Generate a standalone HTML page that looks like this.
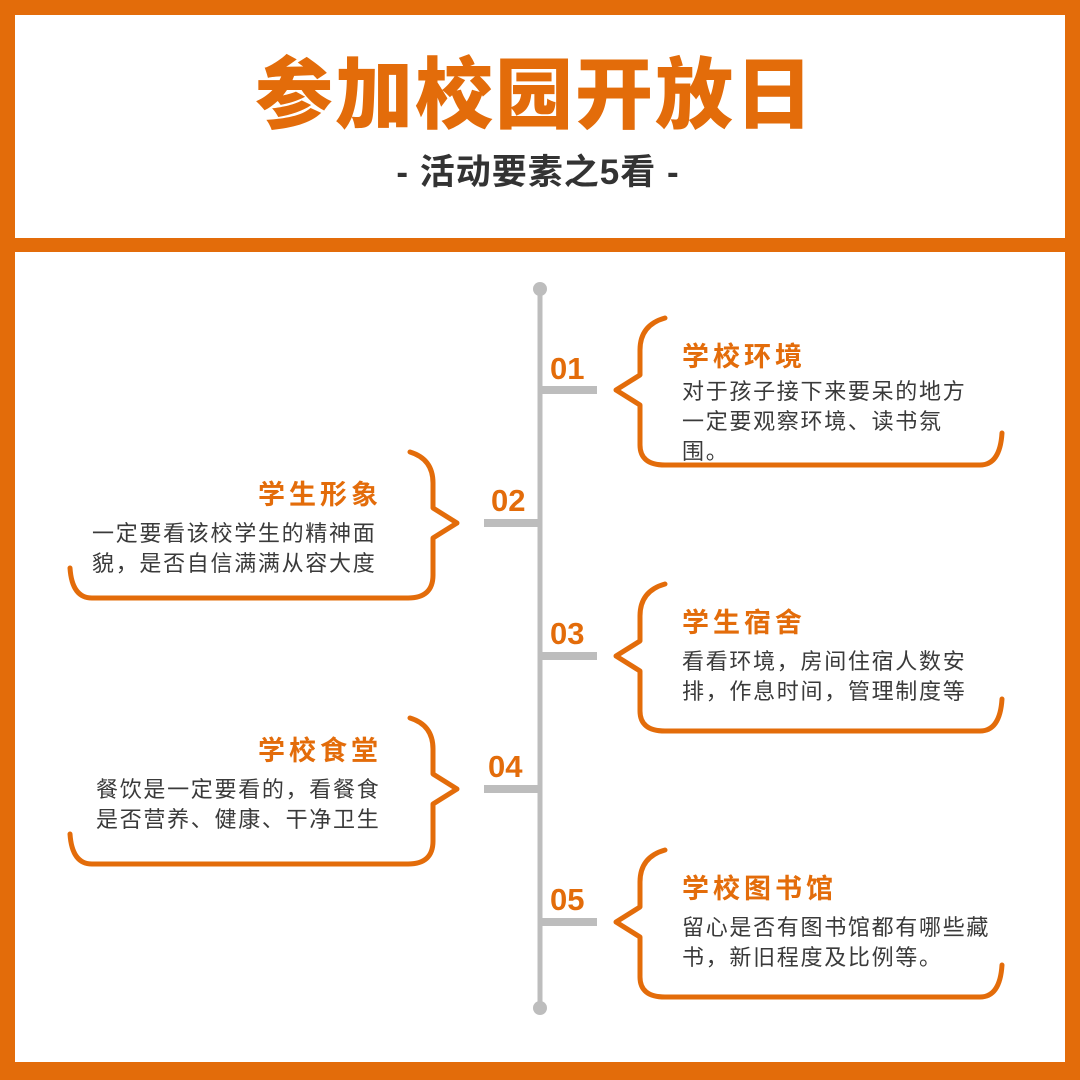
<!DOCTYPE html>
<html><head><meta charset="utf-8"><style>
html,body{margin:0;padding:0;}
body{width:1080px;height:1080px;overflow:hidden;background:#e36c0a;}
svg{display:block;}
.t{font-family:"Liberation Sans","Noto Sans CJK SC",sans-serif;}
.h{font-size:27px;font-weight:bold;fill:#e36c0a;letter-spacing:4px;}
.b{font-size:22px;fill:#3a3a3a;letter-spacing:1.7px;}
.n{font-size:31px;font-weight:bold;fill:#e36c0a;}
.br{fill:none;stroke:#e36c0a;stroke-width:5;stroke-linejoin:round;stroke-linecap:round;}
</style></head><body>
<svg width="1080" height="1080" viewBox="0 0 1080 1080" xmlns="http://www.w3.org/2000/svg">
<rect x="0" y="0" width="1080" height="1080" fill="#e36c0a"/>
<rect x="15" y="15" width="1050" height="223" fill="#fff"/>
<rect x="15" y="252" width="1050" height="810" fill="#fff"/>
<text class="t" x="535" y="122" text-anchor="middle" font-size="78" font-weight="900" fill="#e36c0a" letter-spacing="2">参加校园开放日</text>
<text class="t" x="538" y="184" text-anchor="middle" font-size="35" font-weight="bold" fill="#333" letter-spacing="1">- 活动要素之5看 -</text>
<line x1="540" y1="289" x2="540" y2="1008" stroke="#bdbdbd" stroke-width="5"/>
<circle cx="540" cy="289" r="7" fill="#bdbdbd"/>
<circle cx="540" cy="1008" r="7" fill="#bdbdbd"/>
<g fill="#bdbdbd">
<rect x="540" y="386" width="57" height="8"/>
<rect x="484" y="519" width="56" height="8"/>
<rect x="540" y="652" width="57" height="8"/>
<rect x="484" y="785" width="56" height="8"/>
<rect x="540" y="918" width="57" height="8"/>
</g>
<g class="t n">
<text x="550" y="379">01</text>
<text x="491" y="511">02</text>
<text x="550" y="644">03</text>
<text x="488" y="777">04</text>
<text x="550" y="910">05</text>
</g>
<path class="br" d="M665,318 Q640,325 640,350 L640,375 L616,390 L640,405 L640,445 Q640,465 665,465 L980,465 Q1000,465 1002,433"/>
<path class="br" d="M665,584 Q640,591 640,616 L640,641 L616,656 L640,671 L640,711 Q640,731 665,731 L980,731 Q1000,731 1002,699"/>
<path class="br" d="M665,850 Q640,857 640,882 L640,907 L616,922 L640,937 L640,977 Q640,997 665,997 L980,997 Q1000,997 1002,965"/>
<path class="br" d="M410,452 Q433,459 433,483 L433,508 L457,523 L433,538 L433,575 Q433,598 408,598 L92,598 Q72,598 70,568"/>
<path class="br" d="M410,718 Q433,725 433,749 L433,774 L457,789 L433,804 L433,841 Q433,864 408,864 L92,864 Q72,864 70,834"/>
<g class="t">
<text class="h" x="682" y="366">学校环境</text>
<text class="b" x="682" y="399">对于孩子接下来要呆的地方</text>
<text class="b" x="682" y="429">一定要观察环境、读书氛</text>
<text class="b" x="682" y="459">围。</text>

<text class="h" x="682" y="632">学生宿舍</text>
<text class="b" x="682" y="669">看看环境，房间住宿人数安</text>
<text class="b" x="682" y="699">排，作息时间，管理制度等</text>

<text class="h" x="682" y="898">学校图书馆</text>
<text class="b" x="682" y="935">留心是否有图书馆都有哪些藏</text>
<text class="b" x="682" y="965">书，新旧程度及比例等。</text>

<text class="h" x="382" y="504" text-anchor="end">学生形象</text>
<text class="b" x="92" y="541">一定要看该校学生的精神面</text>
<text class="b" x="92" y="571">貌，是否自信满满从容大度</text>

<text class="h" x="382" y="760" text-anchor="end">学校食堂</text>
<text class="b" x="96" y="797">餐饮是一定要看的，看餐食</text>
<text class="b" x="96" y="827">是否营养、健康、干净卫生</text>
</g>
</svg>
</body></html>
